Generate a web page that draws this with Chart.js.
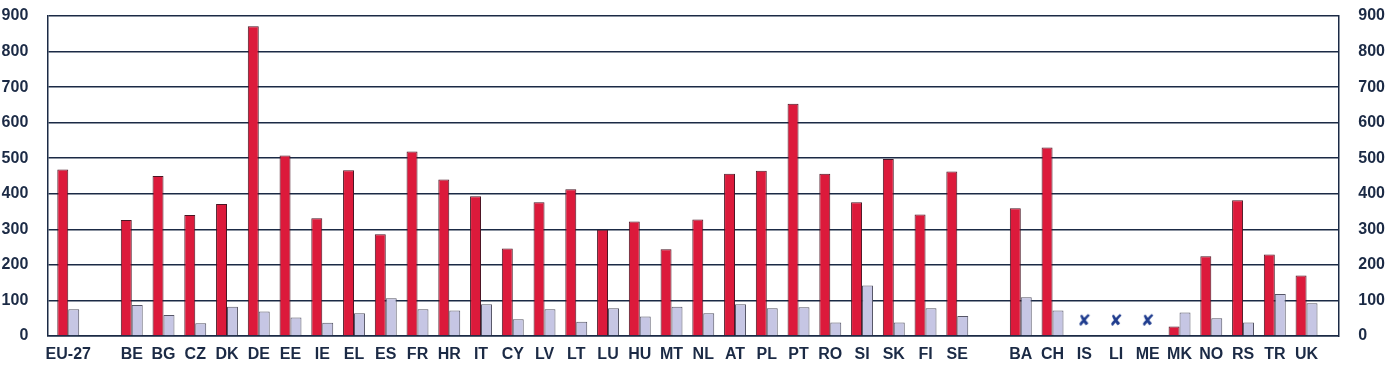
<!DOCTYPE html>
<html>
<head>
<meta charset="utf-8">
<script src="https://cdn.jsdelivr.net/npm/chart.js@4"></script>
<style>
	body { margin: 0; background: #fff; }
	canvas { display: block; }
</style>
</head>
<body>
<canvas id="mycanvas" width="1386" height="369"></canvas>
<script>
// categories, '' = empty slot between the groups
var categories = ['EU-27', '',
	'BE', 'BG', 'CZ', 'DK', 'DE', 'EE', 'IE', 'EL', 'ES', 'FR', 'HR', 'IT', 'CY', 'LV',
	'LT', 'LU', 'HU', 'MT', 'NL', 'AT', 'PL', 'PT', 'RO', 'SI', 'SK', 'FI', 'SE', '',
	'BA', 'CH', 'IS', 'LI', 'ME', 'MK', 'NO', 'RS', 'TR', 'UK'];

var redValues = [468, null,
	326, 450, 340, 371, 871, 508, 331, 466, 286, 519, 440, 393, 246, 376,
	413, 299, 322, 244, 328, 456, 465, 653, 456, 376, 498, 342, 463, null,
	359, 530, null, null, null, 27, 224, 382, 229, 170];

var lilacValues = [75, null,
	87, 59, 36, 82, 69, 52, 37, 64, 106, 75, 72, 89, 47, 75,
	40, 78, 55, 82, 64, 89, 78, 81, 38, 142, 38, 78, 56, null,
	109, 72, null, null, null, 66, 50, 38, 118, 92];

// "not available" markers (IS, LI, ME)
var notAvailable = [null, null,
	null, null, null, null, null, null, null, null, null, null, null, null, null, null,
	null, null, null, null, null, null, null, null, null, null, null, null, null, null,
	null, null, 40, 40, 40, null, null, null, null, null];

var yTicks = [0, 100, 200, 300, 400, 500, 600, 700, 800, 900];

function toPoints(arr) {
	var pts = [];
	for (var i in arr) {
		pts.push({x: Number(i), y: arr[i]});
	}
	return pts;
}

function noPadding(scale) {
	scale.paddingLeft = 0;
	scale.paddingRight = 0;
	scale.paddingTop = 0;
	scale.paddingBottom = 0;
}

var navy = '#1b2a45';
var labelFont = {family: "'Liberation Sans', Arial, sans-serif", size: 16, weight: 'bold'};

// cross glyph used as point style
var xMark = document.createElement('canvas');
xMark.width = 18;
xMark.height = 18;
var xc = xMark.getContext('2d');
xc.fillStyle = '#1f3c8e';
xc.font = "bold 16px 'DejaVu Sans'";
xc.textAlign = 'center';
xc.textBaseline = 'middle';
xc.fillText('\u2718', 9, 9);

var chartdata = {
	datasets: [
		{
			type: 'line',
			label: 'n/a',
			data: toPoints(notAvailable),
			showLine: false,
			pointStyle: xMark,
			pointRadius: 8,
			order: 0
		},
		{
			label: 'Series 1',
			data: toPoints(redValues),
			backgroundColor: '#dc1a3b',
			borderColor: '#4a1624',
			borderWidth: 1,
			order: 1
		},
		{
			label: 'Series 2',
			data: toPoints(lilacValues),
			backgroundColor: '#c6c6e4',
			borderColor: '#555566',
			borderWidth: 1,
			order: 1
		}
	]
};

var ctx = document.getElementById('mycanvas');

var BarGraph = new Chart(ctx, {
	type: 'bar',
	data: chartdata,
	options: {
		responsive: false,
		animation: false,
		categoryPercentage: 0.69,
		barPercentage: 1.0,
		layout: {autoPadding: false, padding: {top: 16, right: 1, bottom: 0, left: 1.5}},
		plugins: {
			legend: {display: false},
			tooltip: {enabled: false}
		},
		scales: {
			x: {
				type: 'linear',
				offset: false,
				min: -0.66,
				max: 40,
				afterBuildTicks: function(scale) {
					var t = [];
					for (var i in categories) {
						if (categories[i] !== '') t.push({value: Number(i)});
					}
					scale.ticks = t;
				},
				afterFit: function(scale) {
					noPadding(scale);
					scale.height = 33;
				},
				ticks: {
					autoSkip: false,
					maxRotation: 0,
					padding: 9,
					color: navy,
					font: labelFont,
					callback: function(v) { return categories[v]; }
				},
				grid: {display: false, drawTicks: false, offset: false},
				border: {display: true, color: navy, width: 1.5}
			},
			y: {
				position: 'left',
				min: 0,
				max: 900,
				afterBuildTicks: function(scale) {
					scale.ticks = yTicks.map(function(v) { return {value: v}; });
				},
				afterFit: function(scale) {
					noPadding(scale);
					scale.width = 45.8;
				},
				ticks: {padding: 19, color: navy, font: labelFont},
				grid: {color: navy, lineWidth: 1.5, drawTicks: false},
				border: {display: true, color: navy, width: 1.5}
			},
			y2: {
				position: 'right',
				min: 0,
				max: 900,
				afterBuildTicks: function(scale) {
					scale.ticks = yTicks.map(function(v) { return {value: v}; });
				},
				afterFit: function(scale) {
					noPadding(scale);
					scale.width = 46.7;
				},
				ticks: {padding: 20, color: navy, font: labelFont},
				grid: {display: false, drawTicks: false},
				border: {display: true, color: navy, width: 1.5}
			}
		}
	}
});
</script>
</body>
</html>
